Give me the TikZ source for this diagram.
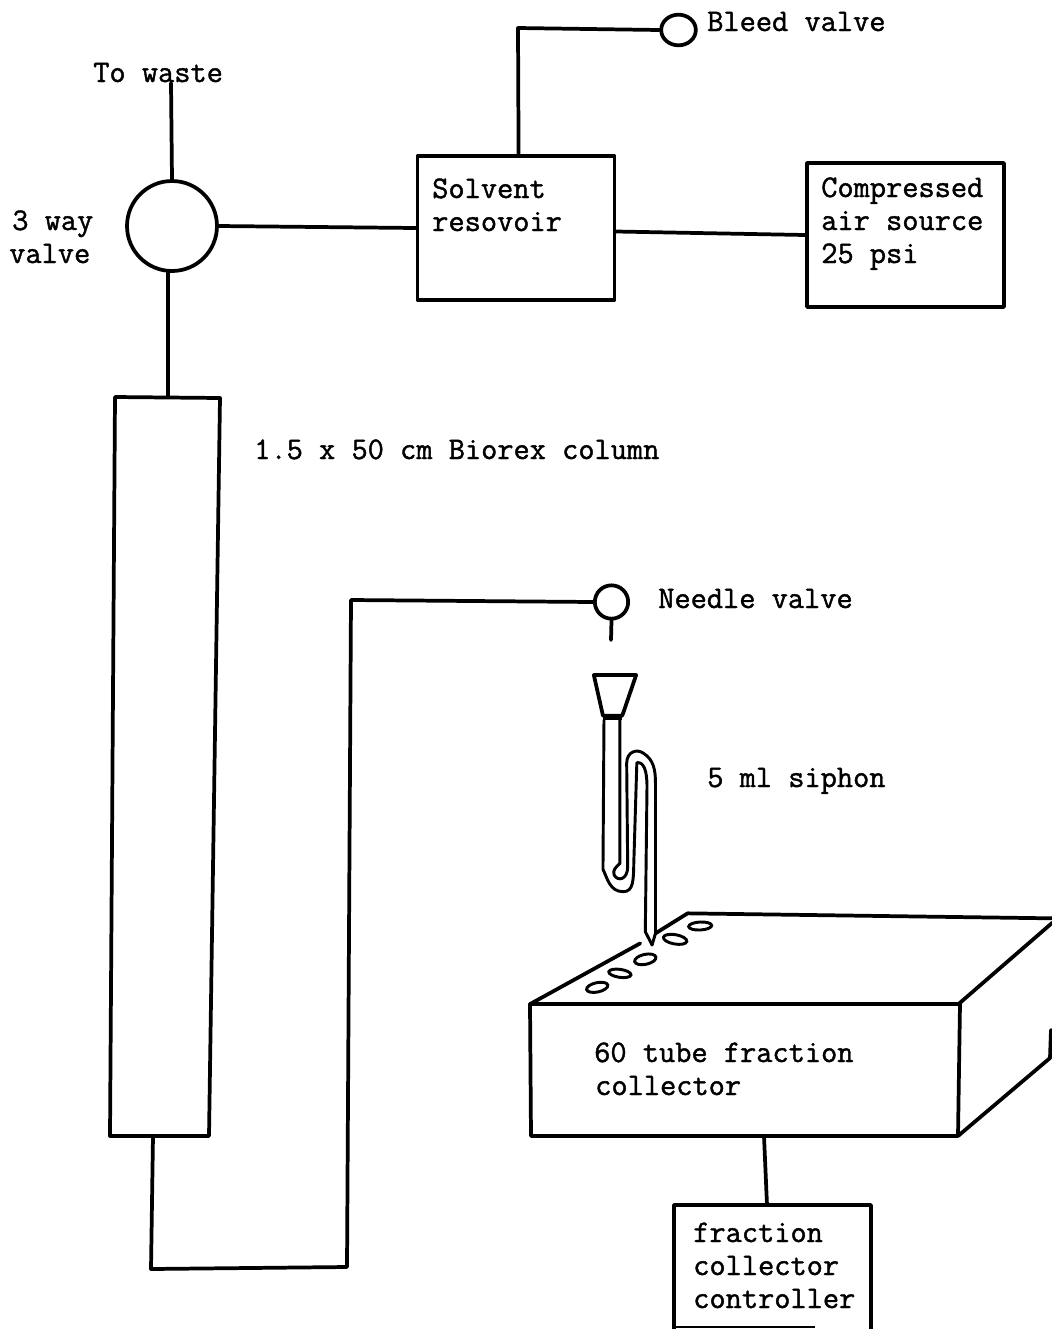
\documentclass[tikz,border=0pt]{standalone}
\usepackage{fontspec}
\newfontfamily\tw[RawFeature={embolden=1.3}]{Latin Modern Mono}
\usetikzlibrary{calc,shapes.geometric}
\tikzset{
  ink/.style={line width=2.8pt,line join=round,line cap=round,black},
  thinink/.style={line width=2.2pt,line join=round,line cap=round,black},
  lab/.style={anchor=base west,inner sep=0pt,font=\tw\fontsize{23.6}{28}\selectfont},
  boxnode/.style={draw,ink,inner sep=0pt,rectangle},
  valvenode/.style={draw,ink,circle,inner sep=0pt},
  hole/.style={line width=2.2pt,black}
}
\begin{document}
\begin{tikzpicture}[x=0.75pt,y=-0.75pt]
\useasboundingbox (0,0) rectangle (1051,1329);
\fill[white] (0,0) rectangle (1051,1329);

% boxes and valves
\node[valvenode,minimum size=67.5pt] (way) at (172,226) {};
\node[boxnode,minimum width=147.75pt,minimum height=108pt] (solvent) at (516,228) {};
\node[boxnode,minimum width=147.75pt,minimum height=108pt] (air) at (905.5,235) {};
\node[valvenode,minimum size=25pt] (needle) at (611.5,602) {};
\node[draw,ink,ellipse,inner sep=0pt,minimum width=26pt,minimum height=23pt] (bleed) at (678.5,30) {};

% column
\coordinate (colNW) at (115,397);
\coordinate (colNE) at (220,398);
\coordinate (colSE) at (209,1136);
\coordinate (colSW) at (110,1136);
\coordinate (colTop) at (168,397);
\coordinate (colBot) at (153,1136);
\draw[ink] (colNW) -- (colNE) -- (colSE) -- (colSW) -- cycle;

% labelled connectors
\coordinate (wasteEnd) at (171,83);
\coordinate (bleedCorner) at (518,28);
\coordinate (b1) at (151,1269);
\coordinate (b2) at (347,1267);
\coordinate (b3) at (351,600);
\coordinate (needleEnd) at (611,640);
\draw[ink] (wasteEnd) -- (way.north);
\draw[ink] (way.265) -- (colTop);
\draw[ink] (way.east) -- (solvent.west);
\draw[ink] (solvent.-2.3) -- (air.west);
\draw[ink] (solvent.88.5) -- (bleedCorner) -- (bleed.west);
\draw[ink] (colBot) -- (b1) -- (b2) -- (b3) -- (needle.west);
\draw[ink] (needle.south) -- (needleEnd);

% funnel, siphon and collector top, traced in coordinates of the crop at (520,570)
\begin{scope}[shift={(520,570)},x=0.254pt,y=-0.25pt]
  \draw[ink] (218,315) -- (343,315) -- (302,437) -- (245,437) -- cycle;
  \draw[line width=3pt] (245,445) -- (302,445);
  \draw[thinink] (248,450) -- (245,898) .. controls (258,925) and (265,965) .. (305,965)
     .. controls (335,965) and (335,930) .. (336,880) -- (345,578)
     .. controls (365,575) and (375,600) .. (375,650) -- (370,1085) -- (390,1125);
  \draw[thinink] (295,450) -- (295,880) .. controls (285,890) and (272,900) .. (278,915)
     .. controls (288,935) and (318,930) .. (318,890) -- (315,580)
     .. controls (315,545) and (345,535) .. (365,550)
     .. controls (395,570) and (400,600) .. (400,640) -- (400,1090) -- (390,1125);
  \draw[ink] (30,1302) -- (355,1120);
  \draw[ink] (400,1090) -- (495,1030) -- (1572,1045);
  \draw[ink] (30,1302) -- (1295,1302);
  \draw[ink] (1295,1302) -- (1572,1058);
  \draw[hole] (228,1252) ellipse [x radius=32,y radius=14,rotate=12];
  \draw[hole] (295,1210) ellipse [x radius=33,y radius=12,rotate=-8];
  \draw[hole] (370,1168) ellipse [x radius=32,y radius=15,rotate=12];
  \draw[hole] (458,1108) ellipse [x radius=35,y radius=14,rotate=-10];
  \draw[hole] (532,1068) ellipse [x radius=34,y radius=12,rotate=3];
\end{scope}

% collector front
\coordinate (fcNW) at (530,1004);
\coordinate (fcNE) at (960,1004);
\coordinate (fcSE) at (958,1136);
\coordinate (fcSW) at (531,1136);
\coordinate (fcBot) at (764,1136);
\draw[ink] (fcNW) -- (fcSW) -- (fcSE) -- (fcNE);
\coordinate (edgeA) at (1050,1058);
\coordinate (edgeB) at (1051,1030);
\draw[ink] (fcSE) -- (edgeA) -- (edgeB);

% controller
\coordinate (ctlNW) at (674,1205);
\coordinate (ctlNE) at (871,1205);
\coordinate (ctlSE) at (871,1329);
\coordinate (ctlSW) at (674,1329);
\coordinate (ctlBotL) at (675,1327);
\coordinate (ctlBotR) at (815,1327);
\coordinate (ctlTop) at (767,1205);
\draw[ink] (ctlSW) -- (ctlNW) -- (ctlNE) -- (ctlSE);
\draw[line width=1.8pt,black] (ctlBotL) -- (ctlBotR);
\draw[ink] (fcBot) -- (ctlTop);

% texts
\node[lab] (t1) at (93,82) {To waste};
\node[lab] (t2) at (12,230) {3 way};
\node[lab] (t3) at (9,263) {valve};
\node[lab] (t4) at (707,31) {Bleed valve};
\node[lab] (t5) at (432,198) {Solvent};
\node[lab] (t6) at (432,231) {resovoir};
\node[lab] (t7) at (821,197) {Compressed};
\node[lab] (t8) at (821,230) {air source};
\node[lab] (t9) at (821,263) {25 psi};
\node[lab] (t10) at (254,459) {1.5 x 50 cm Biorex column};
\node[lab] (t11) at (658,608) {Needle valve};
\node[lab] (t12) at (707,787) {5 ml siphon};
\node[lab] (t13) at (594,1062) {60 tube fraction};
\node[lab] (t14) at (595,1095) {collector};
\node[lab] (t15) at (693,1242) {fraction};
\node[lab] (t16) at (693,1275) {collector};
\node[lab] (t17) at (693,1308) {controller};
\end{tikzpicture}
\end{document}
